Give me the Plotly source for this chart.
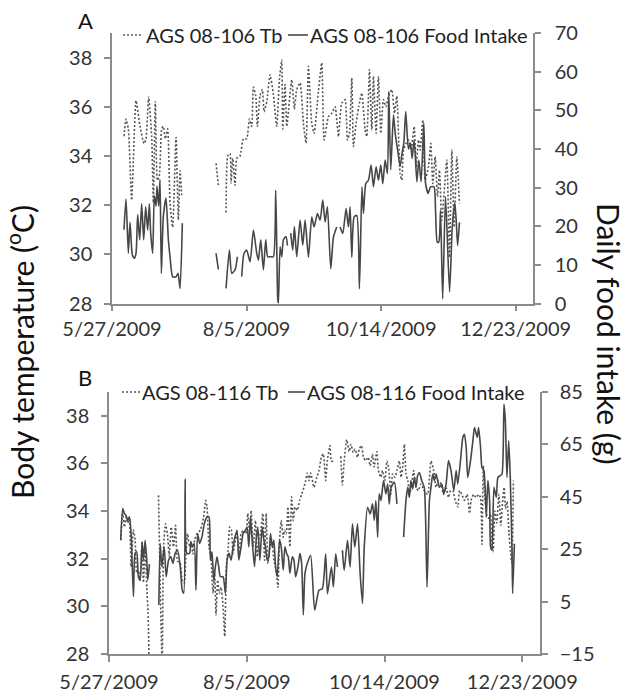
import pandas as pd
import plotly.graph_objects as go

BASE = "2009-05-27"

# ---------------- Panel A : AGS 08-106 ----------------
a_tb_day = [6.24, 7.29, 8.5, 10.23, 12.49, 14.57, 16.65, 17.69, 19.08, 20.64,
            21.51, 22.55, 23.59, 24.63, 25.85, 26.71, 27.76, 28.97, 30.18, 31.57,
            33.31, 34.52, 35.39, 36.25, 45.0, 54.12, 55.34, 57.0, 59.33, 60.19,
            61.41, 61.93, 62.8, 64.01, 64.88, 66.61, 68.35, 70.08, 71.47, 72.68,
            73.55, 74.77, 75.63, 77.02, 78.24, 79.1, 80.49, 82.22, 83.96, 85.69,
            87.08, 88.3, 88.82, 90.03, 90.9, 93.5, 94.89, 96.1, 97.84, 99.57,
            100.96, 102.18, 103.91, 105.13, 107.38, 109.12, 110.33, 112.59, 114.32, 116.05,
            117.79, 119.52, 121.26, 122.47, 123.51, 124.73, 125.6, 126.98, 128.34, 129.93,
            131.67, 132.54, 133.92, 135.14, 136.0, 137.39, 138.6, 139.82, 141.21, 142.6,
            143.81, 145.55, 146.93, 148.15, 149.88, 150.75, 151.62, 153.0, 154.22, 155.61,
            157.17, 158.21, 159.42, 160.29, 161.68, 162.89, 164.63, 165.84, 166.88, 168.1,
            169.31, 170.35, 171.56, 174.17, 175.55, 176.77, 177.98, 179.37, 180.75]
a_tb = [34.8, 35.5, 35.1, 32.2, 36.25, 35.2, 34.5, 34.7, 36.4, 34.8,
        32.1, 36.2, 33.0, 33.2, 35.1, 35.2, 34.7, 35.1, 32.1, 31.1,
        34.75, 31.4, 33.4, 32.4, None, 33.7, 32.8, None, 31.7, 34.0,
        34.1, 32.9, 33.9, 32.8, 33.9, 34.0, 34.7, 34.7, 35.5, 35.2,
        36.8, 36.45, 35.2, 36.45, 36.7, 35.8, 36.2, 37.3, 36.5, 35.2,
        37.1, 37.9, 35.1, 36.9, 35.2, 37.1, 35.9, 36.7, 36.97, 35.33,
        34.52, 37.65, 35.33, 34.92, 36.63, 37.79, 34.65, 35.6, 35.74, 36.0,
        34.79, 36.15, 36.29, 34.65, 34.92, 37.17, 34.38, 35.33, 36.0, 36.56,
        35.06, 34.79, 37.51, 35.06, 37.24, 34.92, 37.24, 34.92, 36.29, 36.0,
        36.43, 36.7, 35.74, 36.43, 33.29, 33.02, 34.24, 34.51, 34.65, 34.24,
        35.2, 33.56, 34.65, 34.24, 35.47, 33.02, 33.56, 34.51, 32.88, 33.97,
        32.34, 33.42, 31.38, 33.83, 29.88, 34.24, 31.1, 33.97, 32.07]

a_fi_day = [6.24, 7.29, 8.5, 9.37, 10.58, 11.62, 12.49, 13.36, 14.4, 15.44,
            16.48, 17.52, 18.56, 19.43, 20.12, 21.16, 22.03, 22.9, 23.42, 24.28,
            24.98, 25.67, 26.71, 28.1, 29.32, 30.18, 31.57, 33.31, 34.35, 35.39,
            36.6, 45.0, 54.12, 55.34, 57.0, 59.33, 61.06, 62.28, 64.01, 65.23,
            66.4, 67.48, 68.69, 70.08, 71.82, 73.55, 75.29, 76.16, 77.37, 78.76,
            79.97, 81.01, 82.57, 83.96, 85.17, 86.21, 86.56, 87.43, 88.3, 89.16,
            90.55, 91.25, 92.1, 92.98, 94.02, 94.89, 96.1, 97.84, 99.23, 100.44,
            102.18, 103.91, 105.13, 106.86, 108.25, 109.64, 110.85, 112.06, 113.8, 115.2,
            116.9, 117.8, 118.66, 120.05, 121.78, 122.99, 123.86, 124.73, 125.94, 127.33,
            128.71, 130.01, 130.8, 132.01, 133.4, 134.79, 136.0, 137.39, 138.6, 139.82,
            140.86, 142.08, 143.3, 143.98, 145.0, 146.4, 147.3, 148.5, 149.9, 150.9,
            151.8, 152.8, 154.2, 155.3, 156.1, 157.2, 158.6, 159.6, 160.8, 162.2,
            163.1, 164.5, 165.7, 167.5, 168.3, 169.2, 170.0, 170.9, 172.0, 173.5,
            175.6, 177.0, 178.3, 179.0, 179.8, 180.75]
a_fi = [19.1, 27.0, 13.0, 21.0, 12.6, 11.7, 13.0, 23.0, 16.5, 25.8,
        16.5, 25.0, 19.0, 25.8, 18.2, 13.0, 27.8, 25.2, 30.4, 25.2,
        32.1, 7.8, 22.5, 27.3, 16.5, 12.1, 6.9, 6.9, 7.8, 3.9,
        20.8, None, 13.0, 8.8, None, 3.9, 13.8, 7.8, 8.7, 12.1,
        None, 7.0, 13.0, 13.8, 10.8, 19.0, 13.0, 11.2, 16.5, 8.7,
        16.5, 12.1, 12.1, 12.1, 29.3, 1.2, 0.0, 14.7, 12.1, 16.5,
        17.3, 15.0, None, 18.2, 13.8, 19.9, 12.1, 21.6, 15.1, 21.6,
        12.0, 22.4, 19.8, 23.3, 21.6, 26.8, 21.1, 25.0, 9.0, 17.2,
        19.8, None, 19.8, 18.1, 24.6, 19.8, 25.0, 12.0, 22.4, 22.8,
        3.8, 30.2, 23.3, 31.0, 31.9, 35.8, 30.2, 35.4, 31.9, 35.8,
        31.0, 37.1, 33.6, 54.9, 34.6, 48.8, 44.1, 40.0, 35.5, 39.0,
        41.5, 49.7, 40.0, 41.5, 37.5, 42.3, 31.5, 37.1, 31.5, 46.7,
        31.1, 28.5, 30.2, 30.2, 24.1, 15.9, 15.9, 24.1, 1.2, 27.6,
        3.0, 19.8, 26.0, 22.0, 15.0, 21.0]

# ---------------- Panel B : AGS 08-116 ----------------
b_tb_day = [5.95, 6.97, 7.82, 8.67, 9.52, 10.37, 11.22, 12.41, 13.26, 14.1,
            14.95, 15.8, 16.82, 17.5, 18.52, 19.2, 19.88, 20.39, 22.8, 25.15,
            27.02, 27.7, 28.72, 29.74, 30.59, 31.61, 32.8, 33.82, 34.84, 36.2,
            37.21, 38.23, 39.08, 39.93, 40.95, 41.63, 42.65, 43.5, 44.69, 46.39,
            48.09, 49.11, 49.79, 50.81, 51.83, 52.85, 53.7, 54.38, 55.23, 56.08,
            56.93, 57.95, 58.8, 59.65, 60.5, 61.35, 62.2, 63.04, 64.23, 65.08,
            66.1, 67.12, 68.48, 69.67, 70.52, 71.54, 72.22, 73.24, 74.43, 75.28,
            76.3, 76.98, 78.17, 79.02, 79.87, 80.72, 81.74, 82.76, 83.78, 84.97,
            85.82, 86.66, 87.51, 88.53, 89.21, 90.06, 90.91, 91.93, 92.78, 93.63,
            94.48, 95.67, 96.86, 97.88, 99.07, 99.92, 100.77, 101.62, 102.47, 104.2,
            105.5, 106.7, 107.9, 108.9, 110.1, 110.9, 112.3, 113.0, 114.0, 115.9,
            117.76, 118.6, 119.5, 120.8, 122.0, 122.9, 124.1, 125.1, 126.3, 127.1,
            128.3, 129.3, 130.5, 131.7, 132.7, 133.9, 134.7, 136.1, 136.9, 138.1,
            139.0, 140.2, 141.2, 142.0, 143.3, 144.1, 145.3, 146.3, 147.5, 148.4,
            149.2, 150.1, 150.9, 151.8, 152.8, 153.8, 154.8, 156.0, 157.2, 158.5,
            160.2, 161.9, 163.6, 165.0, 166.2, 167.3, 168.7, 170.0, 171.3, 172.5,
            173.5, 174.7, 175.9, 177.3, 178.1, 179.3, 180.6, 182.0, 183.2, 184.0,
            185.2, 186.6, 187.8, 188.8, 189.5, 190.2, 190.9, 192.1, 192.9, 193.8,
            194.6, 195.2, 196.0, 197.0, 198.1, 199.1, 199.9, 200.8, 201.5, 202.3,
            203.2, 204.0, 204.7, 205.5]
b_tb = [32.78, 33.96, 33.33, 33.75, 33.5, 33.75, 31.66, 33.2, 32.8, 31.4,
        31.5, 31.1, 32.7, 31.0, 32.5, 30.8, 29.7, 27.5, None, 34.66,
        27.5, 32.5, 33.47, 33.0, 32.1, 33.33, 32.5, 33.4, 31.9, 31.8,
        31.1, 30.97, 32.2, 33.05, 32.5, 32.7, 32.2, 32.78, 33.05, 33.2,
        33.75, 34.45, 34.2, 32.5, 32.08, 30.55, 31.4, 29.64, 31.1, 30.55,
        30.8, 30.0, 28.74, 31.66, 32.36, 33.33, 33.2, 32.2, 32.8, 33.05,
        32.1, 33.05, 33.2, 33.05, 33.9, 33.05, 34.03, 32.5, 33.6, 32.08,
        32.9, 33.05, 33.9, 31.94, 33.9, 31.8, 32.5, 32.78, 31.94, 31.5,
        30.8, 32.78, 33.6, 32.9, 33.2, 33.05, 34.17, 32.5, 34.6, 33.6,
        34.17, 34.03, 34.45, 34.7, 35.0, 35.28, 35.6, 35.28, 35.6, 35.0,
        35.4, 35.7, 36.26, 36.4, 35.28, 36.1, 36.75, 36.1, 36.1, None,
        36.3, 35.1, 36.1, 37.0, 36.5, 36.8, 36.46, 36.6, 36.26, 36.6,
        36.75, 36.26, 36.12, 36.26, 35.9, 36.4, 35.85, 36.5, 35.7, 35.42,
        35.7, 35.28, 36.1, 35.85, 34.72, 35.56, 35.42, 35.7, 36.1, 35.42,
        35.85, 36.8, 35.56, 35.28, 34.72, 35.14, 35.7, 35.0, 34.86, 35.14,
        34.86, 34.7, 36.1, 35.7, 35.0, 35.28, 35.14, 34.7, 35.0, 34.57,
        34.86, 34.86, 34.45, 34.17, 34.86, 34.7, 34.45, 34.7, 33.9, 34.45,
        34.7, 34.57, 34.7, 34.57, 32.6, 35.9, 34.7, 33.8, 33.7, 33.9,
        32.6, 32.3, 34.0, 33.5, 34.7, 33.4, 34.3, 35.0, 34.1, 34.4,
        33.1, 32.3, 31.8, 35.28]

b_fi_day = [5.95, 6.97, 7.82, 8.67, 9.52, 10.37, 11.22, 12.41, 13.26, 14.1,
            14.95, 15.8, 16.82, 17.5, 18.35, 19.2, 19.71, 20.56, 23.0, 25.32,
            26.0, 26.85, 28.04, 29.06, 30.25, 31.44, 32.46, 33.65, 34.84, 36.2,
            37.21, 38.0, 38.7, 39.6, 40.95, 41.63, 42.48, 43.33, 44.18, 45.03,
            46.05, 47.24, 48.43, 49.79, 50.81, 51.49, 52.34, 53.19, 54.04, 54.89,
            55.74, 56.59, 57.95, 59.14, 59.99, 61.0, 62.03, 63.04, 64.23, 65.08,
            65.94, 67.12, 68.14, 69.33, 70.18, 71.03, 71.88, 72.73, 73.92, 74.77,
            75.62, 76.64, 77.83, 78.68, 79.53, 80.38, 81.23, 82.08, 82.93, 83.78,
            84.63, 85.48, 86.66, 87.51, 88.53, 89.38, 90.23, 91.08, 91.93, 93.12,
            93.97, 94.82, 96.01, 97.03, 97.88, 98.73, 99.58, 100.77, 102.47, 104.5,
            106.7, 108.4, 110.1, 111.0, 113.0, 114.0, 115.2, 116.1, 117.3, 118.6,
            119.5, 121.2, 122.5, 123.7, 124.9, 126.3, 127.6, 128.8, 129.7, 131.4,
            132.7, 133.9, 134.8, 135.6, 136.5, 137.3, 138.2, 139.5, 140.7, 141.6,
            142.4, 143.3, 145.0, 146.3, 148.0, 149.7, 150.9, 151.8, 152.6, 153.4,
            154.3, 155.2, 156.0, 156.8, 157.7, 158.9, 160.2, 161.6, 162.8, 163.6,
            164.5, 165.3, 166.2, 167.0, 167.9, 169.1, 170.1, 171.3, 172.5, 173.8,
            175.2, 176.4, 177.2, 178.6, 179.8, 180.6, 181.5, 182.3, 183.7, 184.9,
            185.7, 187.1, 187.8, 188.8, 189.5, 190.5, 191.7, 192.5, 193.4, 193.9,
            194.6, 195.6, 196.8, 197.6, 198.8, 199.7, 200.7, 201.4, 202.2, 203.1,
            203.9, 204.8, 205.1, 206.0]
b_fi = [28.4, 40.5, 38.6, 37.9, 36.0, 37.3, 31.0, 6.9, 23.4, 24.0,
        14.5, 13.2, 27.8, 20.8, 28.4, 20.8, 13.2, 19.3, None, 3.7,
        27.2, 18.3, 25.9, 14.5, 20.8, 22.1, 19.6, 23.4, 24.6, 18.3,
        9.4, 8.2, 51.8, 23.4, 23.4, 27.8, 25.9, 27.2, 9.4, 31.0,
        27.2, 29.7, 34.8, 37.3, 37.3, 20.8, 24.0, 13.2, 18.3, 22.1,
        18.3, 14.5, 14.5, 8.2, 20.8, 23.4, 20.8, 25.9, 30.3, 32.2,
        20.8, 25.9, 31.0, 32.2, 33.5, 25.9, 37.3, 28.4, 18.3, 28.4,
        33.5, 20.8, 33.5, 28.4, 25.9, 20.8, 22.1, 31.0, 25.9, 28.4,
        18.3, 14.5, 28.4, 25.9, 17.0, 25.9, 23.4, 22.1, 15.8, 22.1,
        20.8, 14.5, 18.3, 23.4, 19.6, -0.1, 15.8, 19.6, 22.6, 1.7,
        9.3, 9.9, 23.2, 8.0, 18.2, 10.6, 23.2, 18.2, None, 24.6,
        16.9, 28.4, 18.2, 34.7, 25.8, 34.7, 15.7, 4.3, 25.8, 41.0,
        38.5, 42.3, 36.0, 43.6, 29.6, 46.1, 43.6, 51.2, 46.1, 49.9,
        42.3, 48.6, 50.5, 42.3, None, 29.6, 43.6, 48.6, 44.8, 51.2,
        48.0, 52.4, 48.6, 53.1, 54.3, 51.2, 48.6, 10.6, 43.6, 48.6,
        53.7, 51.2, 53.7, 51.2, 48.6, 49.9, 46.1, 49.9, 58.8, 55.0,
        47.4, 55.0, 49.9, 58.8, 67.7, 68.9, 63.8, 52.4, 58.8, 66.4,
        71.4, 67.7, 71.4, 63.8, 56.2, 55.0, 37.2, 51.2, 43.6, 25.8,
        24.6, 48.6, 44.8, 52.4, 53.1, 53.7, 80.3, 74.0, 52.4, 66.4,
        52.4, 23.3, 8.1, 27.1]

# ---------------- axes / labels ----------------
tick_dates = ["2009-05-27", "2009-08-05", "2009-10-14", "2009-12-23"]
tick_text = ["5/27/2009", "8/5/2009", "10/14/2009", "12/23/2009"]
x_range = ["2009-05-27", "2010-01-01"]
tb_ticks = [28, 30, 32, 34, 36, 38]
tb_range = [28, 39]
a_fi_ticks = [0, 10, 20, 30, 40, 50, 60, 70]
a_fi_range = [0, 70]
b_fi_ticks = [-15, 5, 25, 45, 65, 85]
b_fi_range = [-15, 85]
names = ["AGS 08-106 Tb", "AGS 08-106 Food Intake", "AGS 08-116 Tb", "AGS 08-116 Food Intake"]


def to_dates(days):
    base = pd.Timestamp(BASE)
    return [base + pd.Timedelta(days=d) for d in days]


W, H = 632, 696
FONT = "Lato"
TB_COLOR = "#555555"
FI_COLOR = "#474747"
AX_COLOR = "#8c8c8c"
TB_DASH = "2px,2px"
FS = 20


def px(p):
    return p / W


def py(p):
    return 1 - p / H


fig = go.Figure()
fig.add_trace(go.Scatter(x=to_dates(a_tb_day), y=a_tb, name=names[0], mode="lines",
                         line=dict(color=TB_COLOR, width=1.6, dash=TB_DASH, shape="spline", smoothing=0.5),
                         connectgaps=False, xaxis="x", yaxis="y", showlegend=False))
fig.add_trace(go.Scatter(x=to_dates(a_fi_day), y=a_fi, name=names[1], mode="lines",
                         line=dict(color=FI_COLOR, width=1.6, shape="spline", smoothing=0.6),
                         connectgaps=False, xaxis="x", yaxis="y2", showlegend=False))
fig.add_trace(go.Scatter(x=to_dates(b_tb_day), y=b_tb, name=names[2], mode="lines",
                         line=dict(color=TB_COLOR, width=1.6, dash=TB_DASH, shape="spline", smoothing=0.5),
                         connectgaps=False, xaxis="x2", yaxis="y3", showlegend=False))
fig.add_trace(go.Scatter(x=to_dates(b_fi_day), y=b_fi, name=names[3], mode="lines",
                         line=dict(color=FI_COLOR, width=1.6, shape="spline", smoothing=0.6),
                         connectgaps=False, xaxis="x2", yaxis="y4", showlegend=False))

tickfont = dict(family=FONT, size=FS, color="#333333")
common = dict(showline=True, linecolor=AX_COLOR, linewidth=1.5, ticks="outside",
              tickcolor=AX_COLOR, tickwidth=1.5, ticklen=6, showgrid=False,
              zeroline=False, tickfont=tickfont, automargin=False)

fig.update_layout(
    width=W, height=H, autosize=False,
    margin=dict(l=0, r=0, t=0, b=0, pad=0),
    paper_bgcolor="white", plot_bgcolor="white",
    xaxis=dict(domain=[px(112), px(533)], anchor="y", type="date", range=x_range,
               tickvals=tick_dates, ticktext=tick_text, ticklabelstandoff=1, **common),
    yaxis=dict(domain=[py(303.5), py(33)], anchor="x", range=tb_range,
               tickvals=tb_ticks, ticklabelstandoff=8, **common),
    yaxis2=dict(overlaying="y", side="right", anchor="x", range=a_fi_range,
                tickvals=a_fi_ticks, ticklabelstandoff=10, **common),
    xaxis2=dict(domain=[px(109), px(540)], anchor="y3", type="date", range=x_range,
                tickvals=tick_dates, ticktext=tick_text, ticklabelstandoff=3, **common),
    yaxis3=dict(domain=[py(654), py(392)], anchor="x2", range=tb_range,
                tickvals=tb_ticks, ticklabelstandoff=8, **common),
    yaxis4=dict(overlaying="y3", side="right", anchor="x2", range=b_fi_range,
                tickvals=b_fi_ticks, ticklabelstandoff=8, **common),
)

# legends drawn as line samples + text
legend_rows = [
    # (y, dotted x0, x1, text x, solid x0, x1, text x, tb name, fi name)
    (35, 123, 143, 144, 288, 308, 308, names[0], names[1]),
    (392, 122, 140, 140, 288, 305, 305, names[2], names[3]),
]
shapes = []
annots = []
for (ly, d0, d1, dt, s0, s1, st, n1, n2) in legend_rows:
    shapes.append(dict(type="line", xref="paper", yref="paper", x0=px(d0), x1=px(d1),
                       y0=py(ly), y1=py(ly), line=dict(color=TB_COLOR, width=1.6, dash=TB_DASH)))
    shapes.append(dict(type="line", xref="paper", yref="paper", x0=px(s0), x1=px(s1),
                       y0=py(ly), y1=py(ly), line=dict(color=FI_COLOR, width=1.6)))
    annots.append(dict(text=n1, x=px(dt), y=py(ly), xref="paper", yref="paper",
                       xanchor="left", yanchor="middle", showarrow=False,
                       font=dict(family=FONT, size=FS, color="#222222")))
    annots.append(dict(text=n2, x=px(st), y=py(ly), xref="paper", yref="paper",
                       xanchor="left", yanchor="middle", showarrow=False,
                       font=dict(family=FONT, size=FS, color="#222222")))

annots.append(dict(text="A", x=px(85), y=py(20), xref="paper", yref="paper",
                   xanchor="center", yanchor="middle", showarrow=False,
                   font=dict(family=FONT, size=22, color="#111111")))
annots.append(dict(text="B", x=px(85), y=py(377), xref="paper", yref="paper",
                   xanchor="center", yanchor="middle", showarrow=False,
                   font=dict(family=FONT, size=22, color="#111111")))
annots.append(dict(text="Body temperature (<sup>o</sup>C)", x=px(20), y=py(352),
                   xref="paper", yref="paper", xanchor="center", yanchor="middle",
                   textangle=-90, showarrow=False,
                   font=dict(family=FONT, size=30, color="#111111")))
annots.append(dict(text="Daily food intake (g)", x=px(609), y=py(333),
                   xref="paper", yref="paper", xanchor="center", yanchor="middle",
                   textangle=90, showarrow=False,
                   font=dict(family=FONT, size=30, color="#111111")))

fig.update_layout(shapes=shapes, annotations=annots)

fig.write_html("out.html", config={"displayModeBar": False},
               post_script="document.body.style.margin='0px';")
